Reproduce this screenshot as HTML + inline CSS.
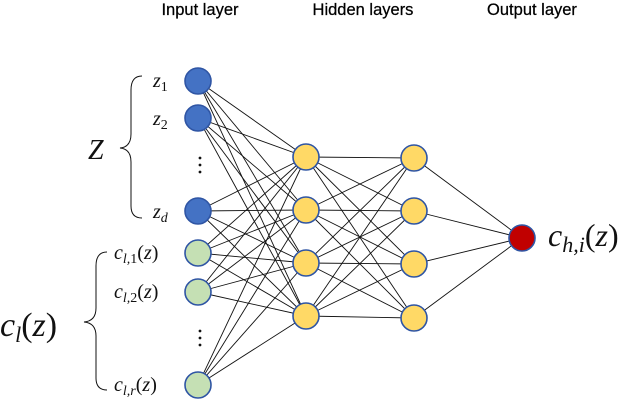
<!DOCTYPE html>
<html><head><meta charset="utf-8"><style>
html,body{margin:0;padding:0;background:#fff;}
svg{display:block}
.h{font-family:"Liberation Sans",sans-serif;font-size:16.5px;fill:#000;stroke:#000;stroke-width:0.25}
.m{font-family:"Liberation Serif",serif;font-style:italic;fill:#111}
</style></head><body>
<svg id="s" width="640" height="402" viewBox="0 0 640 402" xmlns="http://www.w3.org/2000/svg">
<text class="h" x="200" y="15" text-anchor="middle">Input layer</text>
<text class="h" x="363" y="15" text-anchor="middle">Hidden layers</text>
<text class="h" x="532" y="15" text-anchor="middle">Output layer</text>
<g id="lines" stroke="#111" stroke-width="0.9"></g>
<g id="nodes" stroke="#2f55a4" stroke-width="1.6"></g>
<path d="M142,76 Q131,76 131,90 L131,134 Q131,147 120,148 Q131,149 131,162 L131,206 Q131,218 142,218" fill="none" stroke="#111" stroke-width="1"/>
<path d="M107,252 Q96,252 96,266 L96,308 Q96,321 84,322 Q96,323 96,336 L96,378 Q96,390 107,390" fill="none" stroke="#111" stroke-width="1"/>
<text class="m" x="88" y="159" font-size="28">Z</text>
<text class="m" x="0" y="336" font-size="34">c<tspan font-size="22" dy="6">l</tspan><tspan dy="-6" font-style="normal">(</tspan>z<tspan font-style="normal">)</tspan></text>
<text class="m" x="153" y="87" font-size="20">z<tspan font-size="14" dy="4" font-style="normal">1</tspan></text>
<text class="m" x="153" y="125" font-size="20">z<tspan font-size="14" dy="4" font-style="normal">2</tspan></text>
<text class="m" x="153" y="218" font-size="20">z<tspan font-size="14" dy="4">d</tspan></text>
<text class="m" x="114" y="259" font-size="20">c<tspan font-size="14" dy="4">l,</tspan><tspan font-size="14" font-style="normal">1</tspan><tspan dy="-4" font-style="normal">(</tspan>z<tspan font-style="normal">)</tspan></text>
<text class="m" x="114" y="298" font-size="20">c<tspan font-size="14" dy="4">l,</tspan><tspan font-size="14" font-style="normal">2</tspan><tspan dy="-4" font-style="normal">(</tspan>z<tspan font-style="normal">)</tspan></text>
<text class="m" x="114" y="391" font-size="20">c<tspan font-size="14" dy="4">l,r</tspan><tspan dy="-4" font-style="normal">(</tspan>z<tspan font-style="normal">)</tspan></text>
<text class="m" x="548" y="246" font-size="32">c<tspan font-size="22" dy="6">h,i</tspan><tspan dy="-6" font-style="normal">(</tspan>z<tspan font-style="normal">)</tspan></text>
<g fill="#111">
<circle cx="200" cy="158" r="1.4"/><circle cx="200" cy="165" r="1.4"/><circle cx="200" cy="172" r="1.4"/>
<circle cx="200" cy="331" r="1.4"/><circle cx="200" cy="338" r="1.4"/><circle cx="200" cy="345" r="1.4"/>
</g>
</svg>
<script>
var NS="http://www.w3.org/2000/svg";
var inp=[[198,81,"#4472c4"],[198,118,"#4472c4"],[198,211,"#4472c4"],[198,253,"#c5e0b4"],[198,292,"#c5e0b4"],[198,385,"#c5e0b4"]];
var h1=[[306,157],[306,210],[306,263],[306,316]];
var h2=[[414,158],[414,211],[414,264],[414,318]];
var out=[522,238];
var L=document.getElementById("lines"),N=document.getElementById("nodes");
function ln(a,b){var l=document.createElementNS(NS,"line");l.setAttribute("x1",a[0]);l.setAttribute("y1",a[1]);l.setAttribute("x2",b[0]);l.setAttribute("y2",b[1]);L.appendChild(l);}
function c(p,f){var e=document.createElementNS(NS,"circle");e.setAttribute("cx",p[0]);e.setAttribute("cy",p[1]);e.setAttribute("r",13);e.setAttribute("fill",f);N.appendChild(e);}
inp.forEach(function(a){h1.forEach(function(b){ln(a,b);});});
h1.forEach(function(a){h2.forEach(function(b){ln(a,b);});});
h2.forEach(function(a){ln(a,out);});
inp.forEach(function(a){c(a,a[2]);});
h1.forEach(function(a){c(a,"#ffd966");});
h2.forEach(function(a){c(a,"#ffd966");});
c(out,"#c00000");
</script>
</body></html>
